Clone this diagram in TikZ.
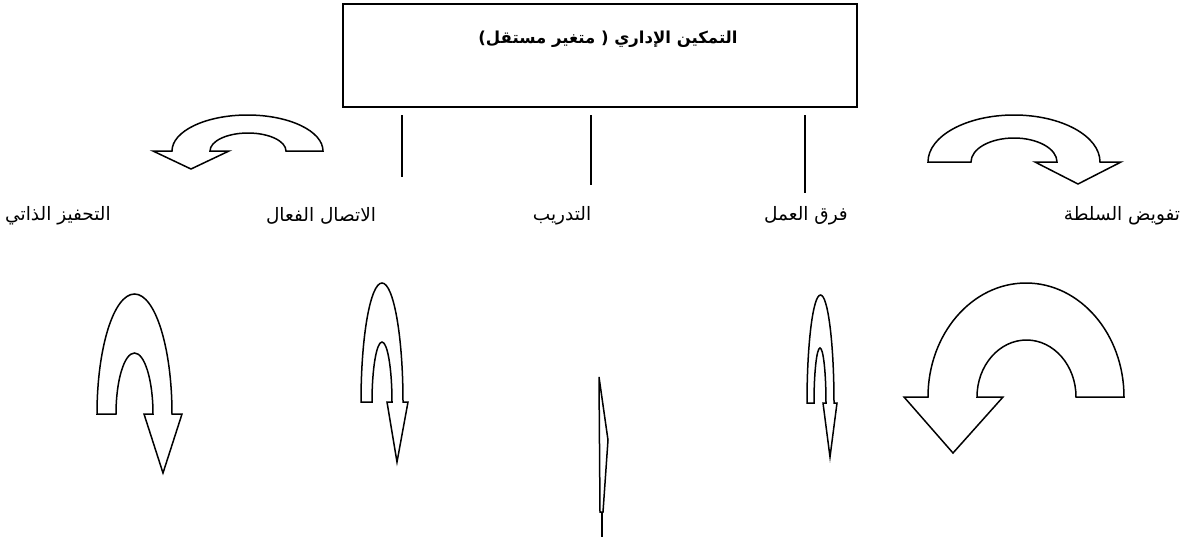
\documentclass[tikz,border=0pt]{standalone}
\usepackage{fontspec}
\TeXXeTstate=1
\newfontfamily\arabicfont[Script=Arabic]{DejaVu Sans}
\begin{document}
\begin{tikzpicture}[x=1pt,y=-1pt,
  shapeline/.style={draw=black,line width=1.5pt,fill=white,line join=miter},
  label/.style={font=\arabicfont\fontsize{18.5}{22}\selectfont,inner sep=0pt},
  stick/.style={draw=black,line width=2.2pt},
  thinstick/.style={draw=black,line width=1.6pt}]
\useasboundingbox (0,0) rectangle (1184,542);
% title box
\node[draw=black,line width=1.8pt,minimum width=514pt,minimum height=103pt,inner sep=0pt] (box) at (600,55.5) {};
\node[font=\arabicfont\bfseries\fontsize{16.5}{20}\selectfont,inner sep=0pt] (title) at (608,39) {\beginR التمكين الإداري \beginL(\endL{} متغير مستقل\beginL)\endL\endR};
% labels
\node[label] (l1) at (1122,216) {\beginR تفويض السلطة\endR};
\node[label] (l2) at (806,216) {\beginR فرق العمل\endR};
\node[label] (l3) at (562,216) {\beginR التدريب\endR};
\node[label] (l4) at (321,216) {\beginR الاتصال الفعال\endR};
\node[label] (l5) at (58,216) {\beginR التحفيز الذاتي\endR};
% top curved arrows
\draw[shapeline] (210,151) arc[start angle=180,end angle=0,x radius=38pt,y radius=18pt]
  -- (323,151) arc[start angle=0,end angle=180,x radius=75.5pt,y radius=36pt]
  -- (153,151) -- (191,169) -- (229,151) -- cycle;
\draw[shapeline] (928,162) arc[start angle=180,end angle=0,x radius=86pt,y radius=47pt]
  -- (1121,162) -- (1078,184) -- (1035,162) -- (1057,162)
  arc[start angle=0,end angle=180,x radius=43pt,y radius=24pt] -- cycle;
% top sticks
\draw[stick] (402,115) -- (402,155);
\draw[thinstick] (402,155) -- (402,177);
\draw[stick] (591,115) -- (591,160);
\draw[thinstick] (591,160) -- (591,185);
\draw[stick] (805,115) -- (805,168);
\draw[thinstick] (805,168) -- (805,193);
% bottom arrows
\draw[shapeline] (977,397) arc[start angle=180,end angle=0,x radius=49.5pt,y radius=57pt]
  -- (1124,397) arc[start angle=0,end angle=180,x radius=98pt,y radius=114pt]
  -- (904,397) -- (953,453) -- (1003,397) -- cycle;
\draw[shapeline] (807,403) arc[start angle=180,end angle=0,x radius=13.5pt,y radius=108pt]
  -- (837,403) -- (830,457) -- (823,403) -- (826,403)
  arc[start angle=0,end angle=180,x radius=6pt,y radius=55pt] -- cycle;
\draw[shapeline] (361,402) arc[start angle=180,end angle=0,x radius=21pt,y radius=119pt]
  -- (408,402) -- (397,462) -- (387,402) -- (392,402)
  arc[start angle=0,end angle=180,x radius=10pt,y radius=60pt] -- cycle;
\draw[shapeline] (97,414) arc[start angle=180,end angle=0,x radius=37.5pt,y radius=120pt]
  -- (182,414) -- (163,473) -- (144,414) -- (153,414)
  arc[start angle=0,end angle=180,x radius=18.5pt,y radius=61pt] -- cycle;
% training thin arrow
\draw[shapeline] (599,377) -- (608,440) -- (603,512) -- (600,512) -- cycle;
\draw[draw=black,line width=2pt] (601.5,512) -- (601.5,537);
\end{tikzpicture}
\end{document}
